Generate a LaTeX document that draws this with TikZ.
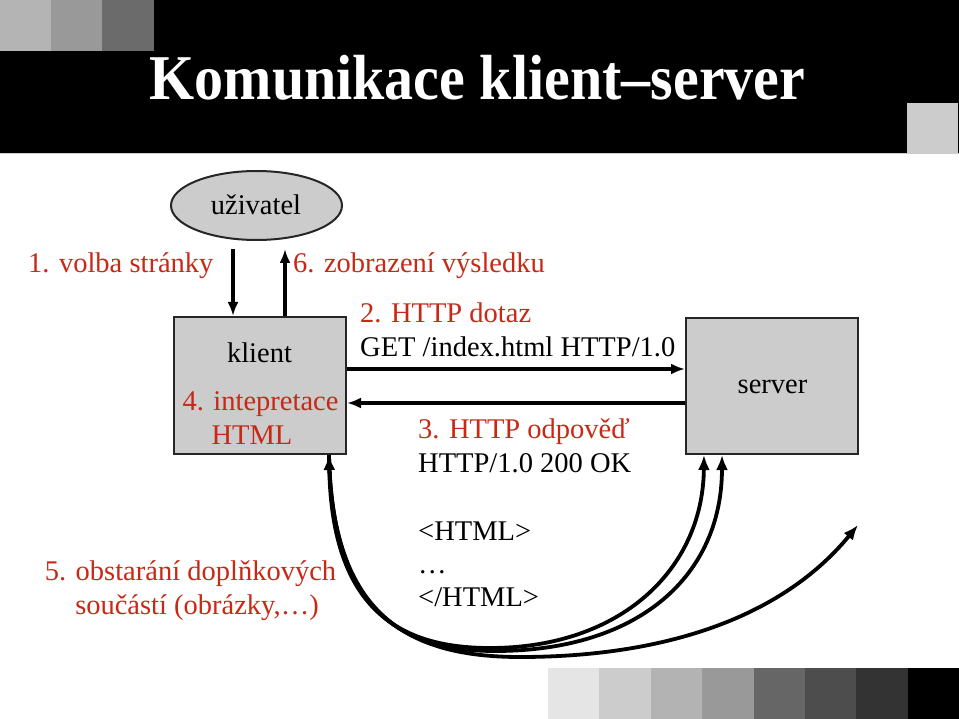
\documentclass[tikz,border=0pt]{standalone}
\usepackage{fontspec}
\setmainfont{Liberation Serif}
\usetikzlibrary{shapes.geometric,arrows.meta}
\definecolor{myred}{RGB}{200,40,22}
\definecolor{boxgray}{RGB}{204,204,204}
\tikzset{
  lbl/.style={font=\fontsize{28.5}{30}\selectfont, inner sep=0pt},
  redlbl/.style={lbl, text=myred},
  box/.style={draw=black!85, line width=2pt, fill=boxgray, inner sep=0pt},
  arr/.style={line width=3.4pt, -{Latex[length=14pt,width=11pt]}},
  curv/.style={line width=3.8pt},
  ctip/.tip={Latex[length=15pt,width=12pt]},
}
\begin{document}
\begin{tikzpicture}[x=1pt,y=-1pt]
\useasboundingbox (0,0) rectangle (959,719);
% header band
\fill[black] (0,0) rectangle (959,153);
\draw[boxgray, line width=1pt] (0,153.5) -- (959,153.5);
\fill[fill={rgb,255:red,180;green,180;blue,180}] (0,0) rectangle (51,51);
\fill[fill={rgb,255:red,153;green,153;blue,153}] (51,0) rectangle (102,51);
\fill[fill={rgb,255:red,107;green,107;blue,107}] (102,0) rectangle (154,51);
\fill[boxgray] (907,103) rectangle (958,153);
% footer squares
\foreach \i/\g in {0/229,1/204,2/179,3/153,4/102,5/77,6/51,7/0}{
  \fill[fill={rgb,255:red,\g;green,\g;blue,\g}] ({548+51.4*\i},668) rectangle ({548+51.4*(\i+1)},719);
}
% title
\node[anchor=base, text=white, inner sep=0pt] (title) at (477.5,100)
  {\scalebox{1}[1.1]{\fontsize{58}{60}\selectfont\bfseries Komunikace klient–server}};
% main shapes
\node[box, ellipse, minimum width=171pt, minimum height=69pt] (user) at (256.5,205.5) {};
\node[lbl, anchor=base] (usertxt) at (256,215) {uživatel};
\node[box, minimum width=172pt, minimum height=137pt] (client) at (260,385.5) {};
\node[box, minimum width=172pt, minimum height=136pt] (server) at (772,386) {};
\node[lbl, anchor=base] (clienttxt) at (259.5,362.5) {klient};
\node[redlbl, anchor=base] (step4a) at (260.5,410) {4. intepretace};
\node[redlbl, anchor=base] (step4b) at (252,444) {HTML};
\node[lbl, anchor=base] (servertxt) at (772.5,393) {server};
% labels
\node[redlbl, anchor=base west] (step1) at (28,272.5) {1. volba stránky};
\node[redlbl, anchor=base west] (step6) at (293,272.5) {6. zobrazení výsledku};
\node[redlbl, anchor=base west] (step2) at (360,322.5) {2. HTTP dotaz};
\node[lbl, anchor=base west] (get) at (360,356.5) {GET /index.html HTTP/1.0};
\node[redlbl, anchor=base west] (step3) at (418,438) {3. HTTP odpověď};
\node[lbl, anchor=base west] (resp) at (418,472.5) {HTTP/1.0 200 OK};
\node[lbl, anchor=base west] (html1) at (418,540) {<HTML>};
\node[lbl, anchor=base west] (html2) at (418,573) {…};
\node[lbl, anchor=base west] (html3) at (418,606.5) {</HTML>};
\node[redlbl, anchor=base] (step5a) at (190.5,580) {5. obstarání doplňkových};
\node[redlbl, anchor=base] (step5b) at (197,614) {součástí (obrázky,…)};
% vertical arrows
\draw[arr] ([xshift=-23.5pt,yshift=-8pt]user.south) -- ([xshift=-27pt]client.north);
\draw[arr] ([xshift=25pt]client.north) -- ([xshift=28.5pt,yshift=-8pt]user.south);
% horizontal arrows
\draw[arr] ([yshift=16.5pt]client.east) -- ([yshift=17pt]server.west);
\draw[arr] ([yshift=-17pt]server.west) -- ([yshift=-17.5pt]client.east);
% curves
\coordinate (cA) at ([xshift=69pt]client.south);
\coordinate (sA) at ([xshift=-68pt]server.south);
\coordinate (sB) at ([xshift=-50pt]server.south);
\coordinate (fe) at (858,525);
\draw[curv, ctip-ctip] (cA) .. controls (332,610) and (400,648) .. (490,648)
  .. controls (620,648) and (703,570) .. (sA);
\draw[curv, -ctip] (cA) .. controls (332,610) and (400,651) .. (495,651)
  .. controls (640,651) and (722,575) .. (sB);
\draw[curv, -ctip] (cA) .. controls (332,610) and (402,657) .. (520,657)
  .. controls (660,657) and (780,620) .. (fe);
\end{tikzpicture}
\end{document}
